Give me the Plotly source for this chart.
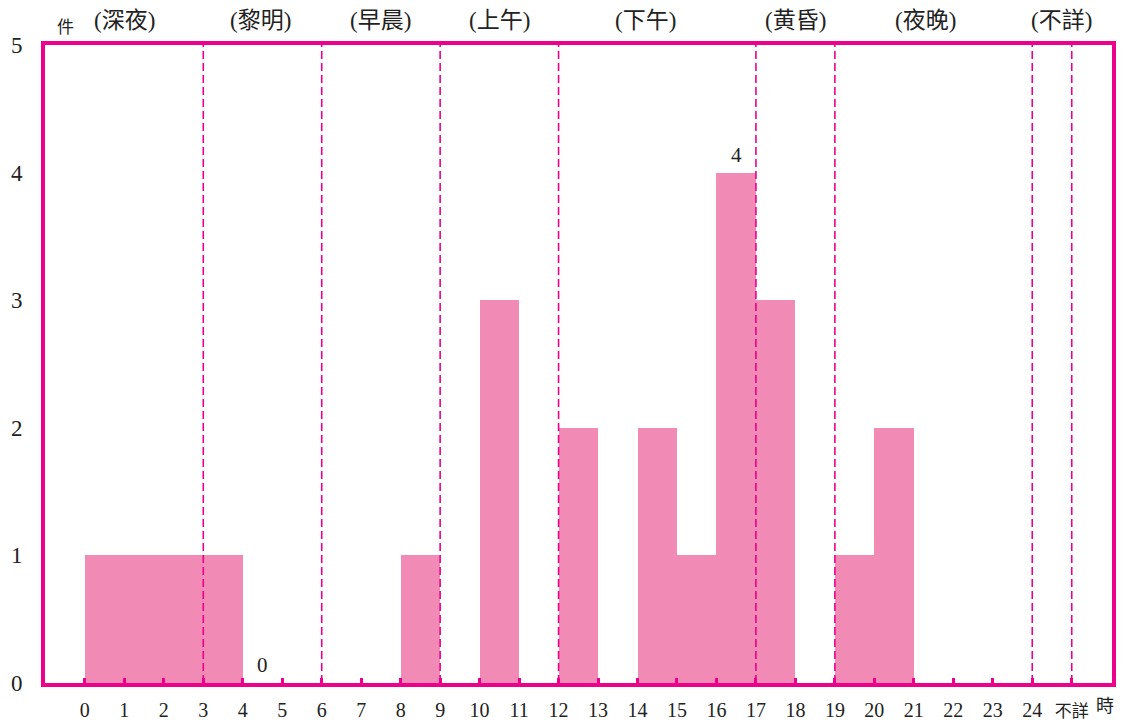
import plotly.graph_objects as go

hours = list(range(24))
counts = [1, 1, 1, 1, 0, 0, 0, 0, 1, 0, 3, 0, 2, 0, 2, 1, 4, 3, 0, 1, 2, 0, 0, 0]
tick_vals = list(range(26))
tick_text = [str(h) for h in range(25)] + ["<span style='font-size:17px'>不詳</span>"]
period_names = ["(深夜)", "(黎明)", "(早晨)", "(上午)", "(下午)", "(黄昏)", "(夜晚)", "(不詳)"]
period_pos = [1.0, 4.45, 7.5, 10.5, 14.2, 18.0, 21.3, 24.75]
dividers = [3, 6, 9, 12, 17, 19, 24, 25]
value_labels = [(4.5, "0"), (16.5, "4")]

MAG = "#EC008C"
BAR = "#F28AB6"
FONT = "Liberation Serif, Noto Sans CJK TC, serif"

fig = go.Figure()
fig.add_trace(go.Bar(
    x=[h + 0.5 for h in hours], y=counts, width=1,
    marker=dict(color=BAR, line=dict(width=0)),
    hoverinfo="x+y", showlegend=False,
))

for d in dividers:
    fig.add_shape(type="line", x0=d, x1=d, y0=0, y1=5, xref="x", yref="y",
                  line=dict(color=MAG, width=1.6, dash="8px,4px"), layer="above")

for p, name in zip(period_pos, period_names):
    fig.add_annotation(x=p, y=1, xref="x", yref="paper", yanchor="bottom", yshift=10,
                       text=name, showarrow=False, font=dict(size=23, family=FONT, color="#222"))

fig.add_annotation(x=0, y=1, xref="paper", yref="paper", xanchor="left", yanchor="bottom",
                   xshift=10, yshift=6, text="件", showarrow=False,
                   font=dict(size=17, family=FONT, color="#222"))

for xv, t in value_labels:
    yv = counts[int(xv)]
    fig.add_annotation(x=xv, y=yv, xref="x", yref="y", yanchor="bottom", yshift=4,
                       text=t, showarrow=False, font=dict(size=21, family=FONT, color="#222"))

fig.add_annotation(x=25.85, y=0, xref="x", yref="paper", yanchor="top", yshift=-11,
                   text="時", showarrow=False, font=dict(size=18, family=FONT, color="#222"))

fig.update_layout(
    width=1126, height=720,
    margin=dict(l=45, r=14, t=45, b=37),
    plot_bgcolor="white", paper_bgcolor="white",
    bargap=0,
    font=dict(family=FONT, color="#222"),
)
fig.update_xaxes(
    range=[-1.01, 26.02], tickvals=tick_vals, ticktext=tick_text,
    showgrid=False, zeroline=False, showline=True, mirror=True,
    linecolor=MAG, linewidth=4, automargin=False,
    ticks="inside", ticklen=5, tickwidth=3, tickcolor=MAG,
    tickfont=dict(size=20, family=FONT, color="#222"),
    ticklabelstandoff=6,
)
fig.update_yaxes(
    range=[0, 5], tickvals=[0, 1, 2, 3, 4, 5],
    showgrid=False, zeroline=False, showline=True, mirror=True,
    linecolor=MAG, linewidth=4, ticks="", automargin=False,
    tickfont=dict(size=23, family=FONT, color="#222"),
    ticklabelstandoff=14,
)

fig.write_html("out.html", config={"displayModeBar": False},
               post_script="document.body.style.margin='0';document.body.style.overflow='hidden';")
